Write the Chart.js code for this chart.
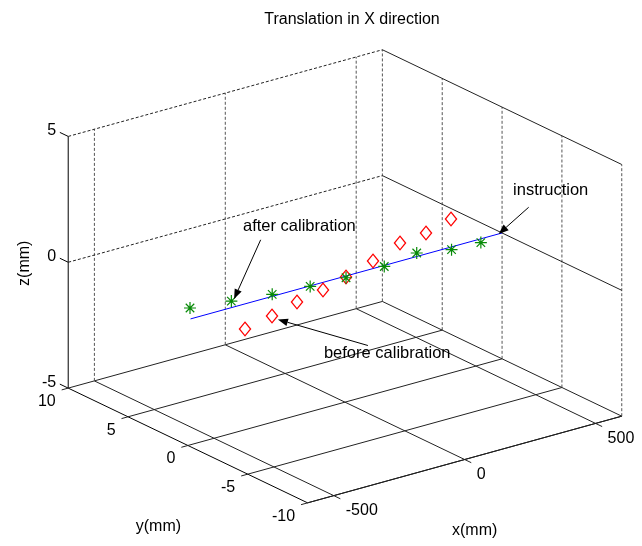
<!DOCTYPE html>
<html>
<head>
<meta charset="utf-8">
<script src="https://cdn.jsdelivr.net/npm/chart.js"></script>
<style>
html,body{margin:0;padding:0;background:#ffffff;}
#c{display:block;}
</style>
</head>
<body>
<canvas id="c" width="642" height="546"></canvas>
<script>
// ---------------- data ----------------
const chartTitle = 'Translation in X direction';
const xAxisLabel = 'x(mm)';
const yAxisLabel = 'y(mm)';
const zAxisLabel = 'z(mm)';

const xTicks = [-500, 0, 500];
const yTicks = [-10, -5, 0, 5, 10];
const zTicks = [-5, 0, 5];
const xLimits = [-600, 600];
const yLimits = [-10, 10];
const zLimits = [-5, 5];

// instruction (commanded path)
const instructionX = [-590, 600];
const instructionY = [0, 0];
const instructionZ = [0, 0];

// after calibration (green asterisks)
const afterX = [-592, -434, -278, -133, 4, 150, 274, 407, 519];
const afterY = [0, 0, 0, 0, 0, 0, 0, 0, 0];
const afterZ = [0.44, 0.26, 0.08, -0.02, -0.07, -0.04, 0.14, -0.11, -0.15];

// before calibration (red diamonds)
const beforeX = [-381, -278, -185, -83, 4, 106, 211, 308, 405];
const beforeY = [0, 0, 0, 0, 0, 0, 0, 0, 0];
const beforeZ = [-1.00, -0.76, -0.51, -0.31, -0.05, 0.31, 0.73, 0.82, 1.12];

// annotation texts
const annotationTexts = ['after calibration', 'before calibration', 'instruction'];

// ---------------- view (orthographic 3D projection into screen units) ----------------
const view = {
  origin: [345.6, 276.4],
  ex: [0.2685, -0.0744],
  ey: [-12.275, -5.91],
  ez: [0, -25.93]
};
function proj(x, y, z) {
  return {
    x: view.origin[0] + x * view.ex[0] + y * view.ey[0] + z * view.ez[0],
    y: view.origin[1] + x * view.ex[1] + y * view.ey[1] + z * view.ez[1]
  };
}

const FONT = '"Liberation Sans", Arial, Helvetica, sans-serif';
const [x0, x1] = xLimits, [y0, y1] = yLimits, [z0, z1] = zLimits;
const xTickExt = 25, yTickExt = 0.55, zTickExt = 0.7;

// ---------------- box / grid lines ----------------
const lineSpecs = [];
function addLine(a, b, kind) { lineSpecs.push({ a, b, kind }); }
// back wall (y = max)
zTicks.forEach(z => { if (z !== z0) addLine([x0, y1, z], [x1, y1, z], 'hdash'); });
xTicks.forEach(x => addLine([x, y1, z0], [x, y1, z1], 'vdash'));
// right wall (x = max)
zTicks.forEach(z => addLine([x1, y1, z], [x1, y0, z], 'thin'));
yTicks.forEach(y => addLine([x1, y, z0], [x1, y, z1], 'vdash'));
// floor (z = min)
yTicks.forEach(y => addLine([x0 - xTickExt, y, z0], [x1, y, z0], 'thin'));
xTicks.forEach(x => addLine([x, y1, z0], [x, y0 - yTickExt, z0], 'thin'));
// axes
addLine([x0, y1, z0], [x0, y1, z1], 'axis');
zTicks.forEach(z => addLine([x0, y1, z], [x0, y1 + zTickExt, z], 'axis'));
addLine([x0, y0, z0], [x0, y1, z0], 'axis');
addLine([x0, y0, z0], [x1, y0, z0], 'axis');

const lineStyles = {
  hdash: { color: '#222222', dash: [3, 2] },
  vdash: { color: '#555555', dash: [3, 2] },
  thin:  { color: '#222222', dash: [] },
  axis:  { color: '#000000', dash: [] }
};

const gridDatasets = lineSpecs.map(s => ({
  data: [proj(...s.a), proj(...s.b)],
  showLine: true,
  borderColor: lineStyles[s.kind].color,
  borderDash: lineStyles[s.kind].dash,
  borderWidth: 1,
  pointRadius: 0,
  fill: false,
  order: 10
}));

// ---------------- markers ----------------
function makeDiamond() {
  const c = document.createElement('canvas');
  c.width = 14; c.height = 16;
  const g = c.getContext('2d');
  g.strokeStyle = '#ff0000';
  g.lineWidth = 1.25;
  g.beginPath();
  g.moveTo(7, 1.2); g.lineTo(12.6, 8); g.lineTo(7, 14.8); g.lineTo(1.4, 8); g.closePath();
  g.stroke();
  return c;
}
const diamond = makeDiamond();

const instructionPts = instructionX.map((x, i) => proj(x, instructionY[i], instructionZ[i]));
const afterPts = afterX.map((x, i) => proj(x, afterY[i], afterZ[i]));
const beforePts = beforeX.map((x, i) => proj(x, beforeY[i], beforeZ[i]));

const dataDatasets = [
  { data: afterPts, showLine: false, pointStyle: 'star', pointRadius: 6, borderColor: '#078a07',
    backgroundColor: '#078a07', borderWidth: 1.2, order: 1 },
  { data: beforePts, showLine: false, pointStyle: diamond, pointRadius: 7, order: 2 },
  { data: instructionPts, showLine: true, borderColor: '#0000ff', borderWidth: 1, pointRadius: 0, order: 3 }
];

// annotation anchors: anchor point, arrow tip offset, arrow tail offset, text centre offset
const annotations = [
  { text: annotationTexts[0], anchor: () => afterPts[1], tip: [2.7, -2], tail: [29.3, -61.3], label: [68, -74.7] },
  { text: annotationTexts[1], anchor: () => beforePts[1], tip: [5.7, 4], tail: [95.7, 30], label: [115, 38.3] },
  { text: annotationTexts[2], anchor: () => instructionPts[1], tip: [-3.4, 1], tail: [26.6, -25.7], label: [48.6, -42.4] }
];

const overlayPlugin = {
  id: 'overlay',
  beforeDatasetsDraw(chart) {
    chart.ctx.imageSmoothingEnabled = false;
  },
  afterDatasetsDraw(chart) {
    const ctx = chart.ctx, sx = chart.scales.x, sy = chart.scales.y;
    ctx.imageSmoothingEnabled = true;
    const P = p => [sx.getPixelForValue(p.x), sy.getPixelForValue(p.y)];
    ctx.save();
    // annotation arrows
    annotations.forEach(a => {
      const [ax, ay] = P(a.anchor());
      const tx = ax + a.tip[0], ty = ay + a.tip[1];
      const lx = ax + a.tail[0], ly = ay + a.tail[1];
      const ang = Math.atan2(ty - ly, tx - lx);
      const hl = 10, hw = 3.8;
      const bx = tx - hl * Math.cos(ang), by = ty - hl * Math.sin(ang);
      ctx.strokeStyle = '#000'; ctx.lineWidth = 1;
      ctx.beginPath(); ctx.moveTo(lx, ly); ctx.lineTo(bx, by); ctx.stroke();
      ctx.fillStyle = '#000';
      ctx.beginPath();
      ctx.moveTo(tx, ty);
      ctx.lineTo(bx + hw * Math.sin(ang), by - hw * Math.cos(ang));
      ctx.lineTo(bx - hw * Math.sin(ang), by + hw * Math.cos(ang));
      ctx.closePath(); ctx.fill();
    });
    ctx.restore();
  },
  afterDraw(chart) {
    const ctx = chart.ctx, sx = chart.scales.x, sy = chart.scales.y;
    const P = p => [sx.getPixelForValue(p.x), sy.getPixelForValue(p.y)];
    ctx.save();
    ctx.fillStyle = '#000';
    ctx.textBaseline = 'middle';
    ctx.font = '16px ' + FONT;
    // z ticks
    ctx.textAlign = 'right';
    zTicks.forEach(z => { const [px, py] = P(proj(x0, y1, z)); ctx.fillText(String(z), px - 12, py - 5.5); });
    // y ticks
    yTicks.forEach(y => { const [px, py] = P(proj(x0, y, z0)); ctx.fillText(String(y), px - 12.5, py + 13.5); });
    // x ticks
    ctx.textAlign = 'left';
    xTicks.forEach(x => { const [px, py] = P(proj(x, y0, z0)); ctx.fillText(String(x), px + 12, py + 15); });
    // axis labels
    ctx.textAlign = 'center';
    { const [px, py] = P(proj(0, y0, z0)); ctx.fillText(xAxisLabel, px + 10, py + 71.5); }
    { const [px, py] = P(proj(x0, 0, z0)); ctx.fillText(yAxisLabel, px - 29.5, py + 81); }
    { const [px, py] = P(proj(x0, y1, 0)); ctx.save(); ctx.translate(px - 44, py + 1); ctx.rotate(-Math.PI / 2); ctx.fillText(zAxisLabel, 0, 0); ctx.restore(); }
    // title
    ctx.font = '16px ' + FONT;
    ctx.fillText(chartTitle, 352, 20);
    // annotation texts
    ctx.font = '16.5px ' + FONT;
    annotations.forEach(a => {
      const [ax, ay] = P(a.anchor());
      ctx.fillText(a.text, ax + a.label[0], ay + a.label[1]);
    });
    ctx.restore();
  }
};

new Chart(document.getElementById('c'), {
  type: 'scatter',
  data: { datasets: [...dataDatasets, ...gridDatasets] },
  options: {
    responsive: false,
    animation: false,
    events: [],
    layout: { padding: 0 },
    scales: {
      x: { type: 'linear', display: false, min: 0, max: 642 },
      y: { type: 'linear', display: false, min: 0, max: 546, reverse: true }
    },
    plugins: { legend: { display: false }, tooltip: { enabled: false }, title: { display: false } },
    elements: { line: { tension: 0 } },
    clip: false
  },
  plugins: [overlayPlugin]
});
</script>
</body>
</html>
